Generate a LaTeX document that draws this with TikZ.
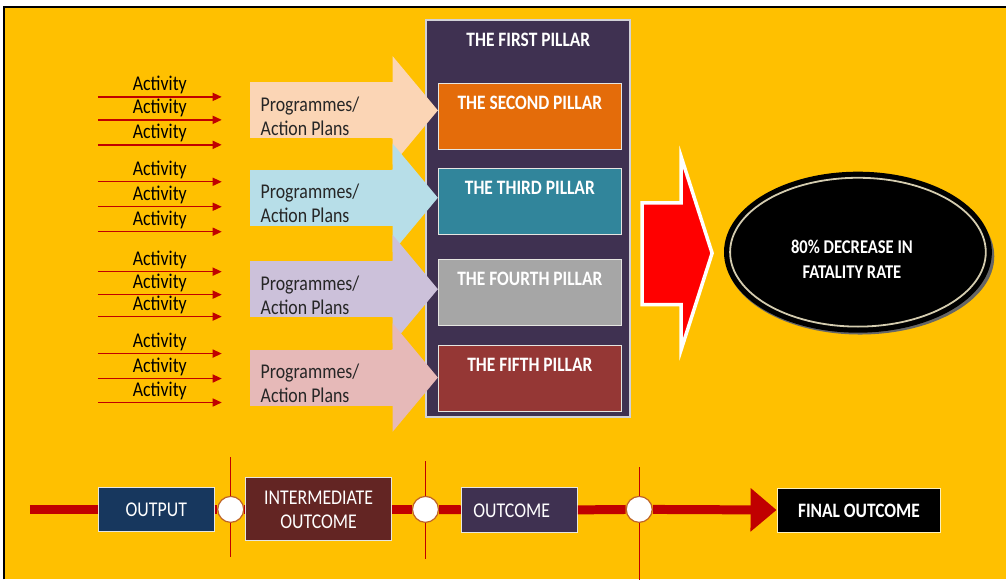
\documentclass[tikz,border=0pt]{standalone}
\usepackage{fontspec}
\setmainfont{Carlito}[FakeStretch=0.85]
\usepackage{tikz}
\usetikzlibrary{arrows.meta,positioning,calc,shapes.geometric,shadows}
\definecolor{bgyellow}{RGB}{255,192,0}
\definecolor{darkred}{RGB}{192,0,0}
\definecolor{arrowred}{RGB}{255,0,0}
\definecolor{panelpurple}{RGB}{63,49,81}
\definecolor{pilorange}{RGB}{228,108,10}
\definecolor{pilteal}{RGB}{49,133,155}
\definecolor{pilgray}{RGB}{166,166,166}
\definecolor{pilred}{RGB}{149,55,53}
\definecolor{softpeach}{RGB}{251,213,181}
\definecolor{softblue}{RGB}{183,222,232}
\definecolor{softlilac}{RGB}{204,193,218}
\definecolor{softpink}{RGB}{230,185,184}
\definecolor{navy}{RGB}{23,55,94}
\definecolor{maroon}{RGB}{99,37,35}
\definecolor{ringbrown}{RGB}{190,100,40}
\definecolor{paleline}{RGB}{230,230,225}
\definecolor{paleyellow}{RGB}{250,240,190}
\definecolor{ringgold}{RGB}{212,204,175}
\definecolor{lightgrey}{RGB}{210,210,215}

\begin{document}
\begin{tikzpicture}[x=1pt,y=-1pt,
  every node/.style={font=\fontsize{21}{24}\selectfont},
  actline/.style={draw=darkred,line width=1.4pt,-{Triangle[length=9pt,width=8pt]}},
  prog/.style={fill=#1,minimum width=143pt,minimum height=56pt,inner sep=0pt},
  pill/.style={fill=#1,draw=paleline,line width=1.2pt,minimum width=183pt,inner sep=0pt,
    text height=25.6pt,text depth=40.4pt,text=white,font=\fontsize{20.5}{24}\selectfont\bfseries},
  tlbox/.style={fill=#1,draw=paleline,line width=1pt,text=white,align=center,inner sep=0pt},
  dot/.style={circle,fill=white,draw=ringbrown,line width=1.2pt,minimum size=26pt,inner sep=0pt},
  tick/.style={draw=darkred,line width=1pt},
  timeline/.style={draw=darkred,line width=9pt}]
  \fill[white] (0,0) rectangle (1007,580);
  \fill[bgyellow] (4,7) rectangle (1007,580);
  \draw[line width=2.5pt] (4,580) -- (4,7) -- (1007,7);
  \useasboundingbox (0,0) rectangle (1007,580);

  \node[pill=panelpurple,draw=lightgrey,line width=2pt,minimum width=204pt,
    text height=26.6pt,text depth=371.4pt] (panel) at (529,219) {THE FIRST PILLAR};
  \node[pill=pilorange] (p2) at (530.5,117) {THE SECOND PILLAR};
  \node[pill=pilteal] (p3) at (530.5,202) {THE THIRD PILLAR};
  \node[pill=pilgray] (p4) at (530.5,293) {THE FOURTH PILLAR};
  \node[pill=pilred] (p5) at (530.5,379) {THE FIFTH PILLAR};

  \foreach \n/\y/\c/\p in {1/110.5/softpeach/p2,2/198/softblue/p3,3/289.5/softlilac/p4,4/378/softpink/p5}{
    \node[prog=\c] (prog\n) at (321.5,\y) {};
    \fill[\c] ($(prog\n.north east)+(-1,0)$) -- ++(1,0) -- ++(0,-26)
      -- (prog\n.east -| \p.west) -- ($(prog\n.south east)+(0,26)$)
      -- (prog\n.south east) -- ++(-1,0) -- cycle;
    \node[right=11pt of prog\n.west,yshift=-6pt,align=left,text=black!85,inner sep=0pt]
      (plan\n) {Programmes/\\Action Plans};
  }

  \foreach \i/\y in {1/97,2/120,3/145,4/182,5/207,6/232,7/272,8/295,9/317,10/354,11/379,12/403}{
    \coordinate (as\i) at (98,\y);
    \coordinate (ae\i) at (222,\y);
    \draw[actline] (as\i) -- node[above=2pt,inner sep=0pt,text=black] (act\i) {Activity} (ae\i);
  }

  \draw[fill=arrowred,draw=white,line width=3.5pt] (643,203) -- (682,203) -- (682,157)
    -- (713,253.5) -- (682,350) -- (682,305) -- (643,305) -- cycle;
  \node[ellipse,fill=black,draw=black,double=ringgold,double distance=1.8pt,line width=5.2pt,
    minimum width=256pt,minimum height=149pt,inner sep=0pt,
    drop shadow={shadow xshift=2pt,shadow yshift=-4pt,shadow scale=1.05,fill=black!60,opacity=1}]
    (goal) at (859,252.5) {};
  \node[text=white,align=center,font=\fontsize{19.5}{25}\selectfont\bfseries]
    (goaltext) at ($(goal)+(-6,7)$) {80\% DECREASE IN\\FATALITY RATE};

  \node[tlbox=navy,minimum width=116pt,minimum height=44pt] (out) at (156.5,510) {OUTPUT};
  \node[tlbox=maroon,minimum width=146pt,minimum height=63pt] (mid) at (319,510) {INTERMEDIATE\\OUTCOME};
  \node[tlbox=panelpurple,align=left,text width=92pt,inner xsep=12pt,minimum height=45pt]
    (outc) at (520,511) {OUTCOME};
  \node[tlbox=black,draw=paleyellow,minimum width=164pt,minimum height=44pt,
    font=\fontsize{20.5}{24}\selectfont\bfseries] (fin) at (860,511) {FINAL OUTCOME};
  \coordinate (tl) at (30,510);
  \node[dot] (c1) at (231,510) {};
  \node[dot] (c2) at (426,510) {};
  \node[dot] (c3) at (640,510) {};
  \draw[tick] (c1.north) -- ++(0,-39);
  \draw[tick] (c1.south) -- ++(0,34);
  \draw[tick] (c2.north) -- ++(0,-35);
  \draw[tick] (c2.south) -- ++(0,36);
  \draw[tick] (c3.north) -- ++(0,-29);
  \draw[tick] (c3.south) -- ++(0,57);
  \draw[timeline] (tl) -- (out);
  \draw[timeline] (out) -- (c1);
  \draw[timeline] (c1) -- (mid);
  \draw[timeline] (mid) -- (c2);
  \draw[timeline] (c2) -- (outc);
  \draw[timeline] (outc) -- (c3);
  \draw[timeline,-{Triangle[length=26pt,width=42pt]}] (c3) -- (fin);
\end{tikzpicture}
\end{document}
